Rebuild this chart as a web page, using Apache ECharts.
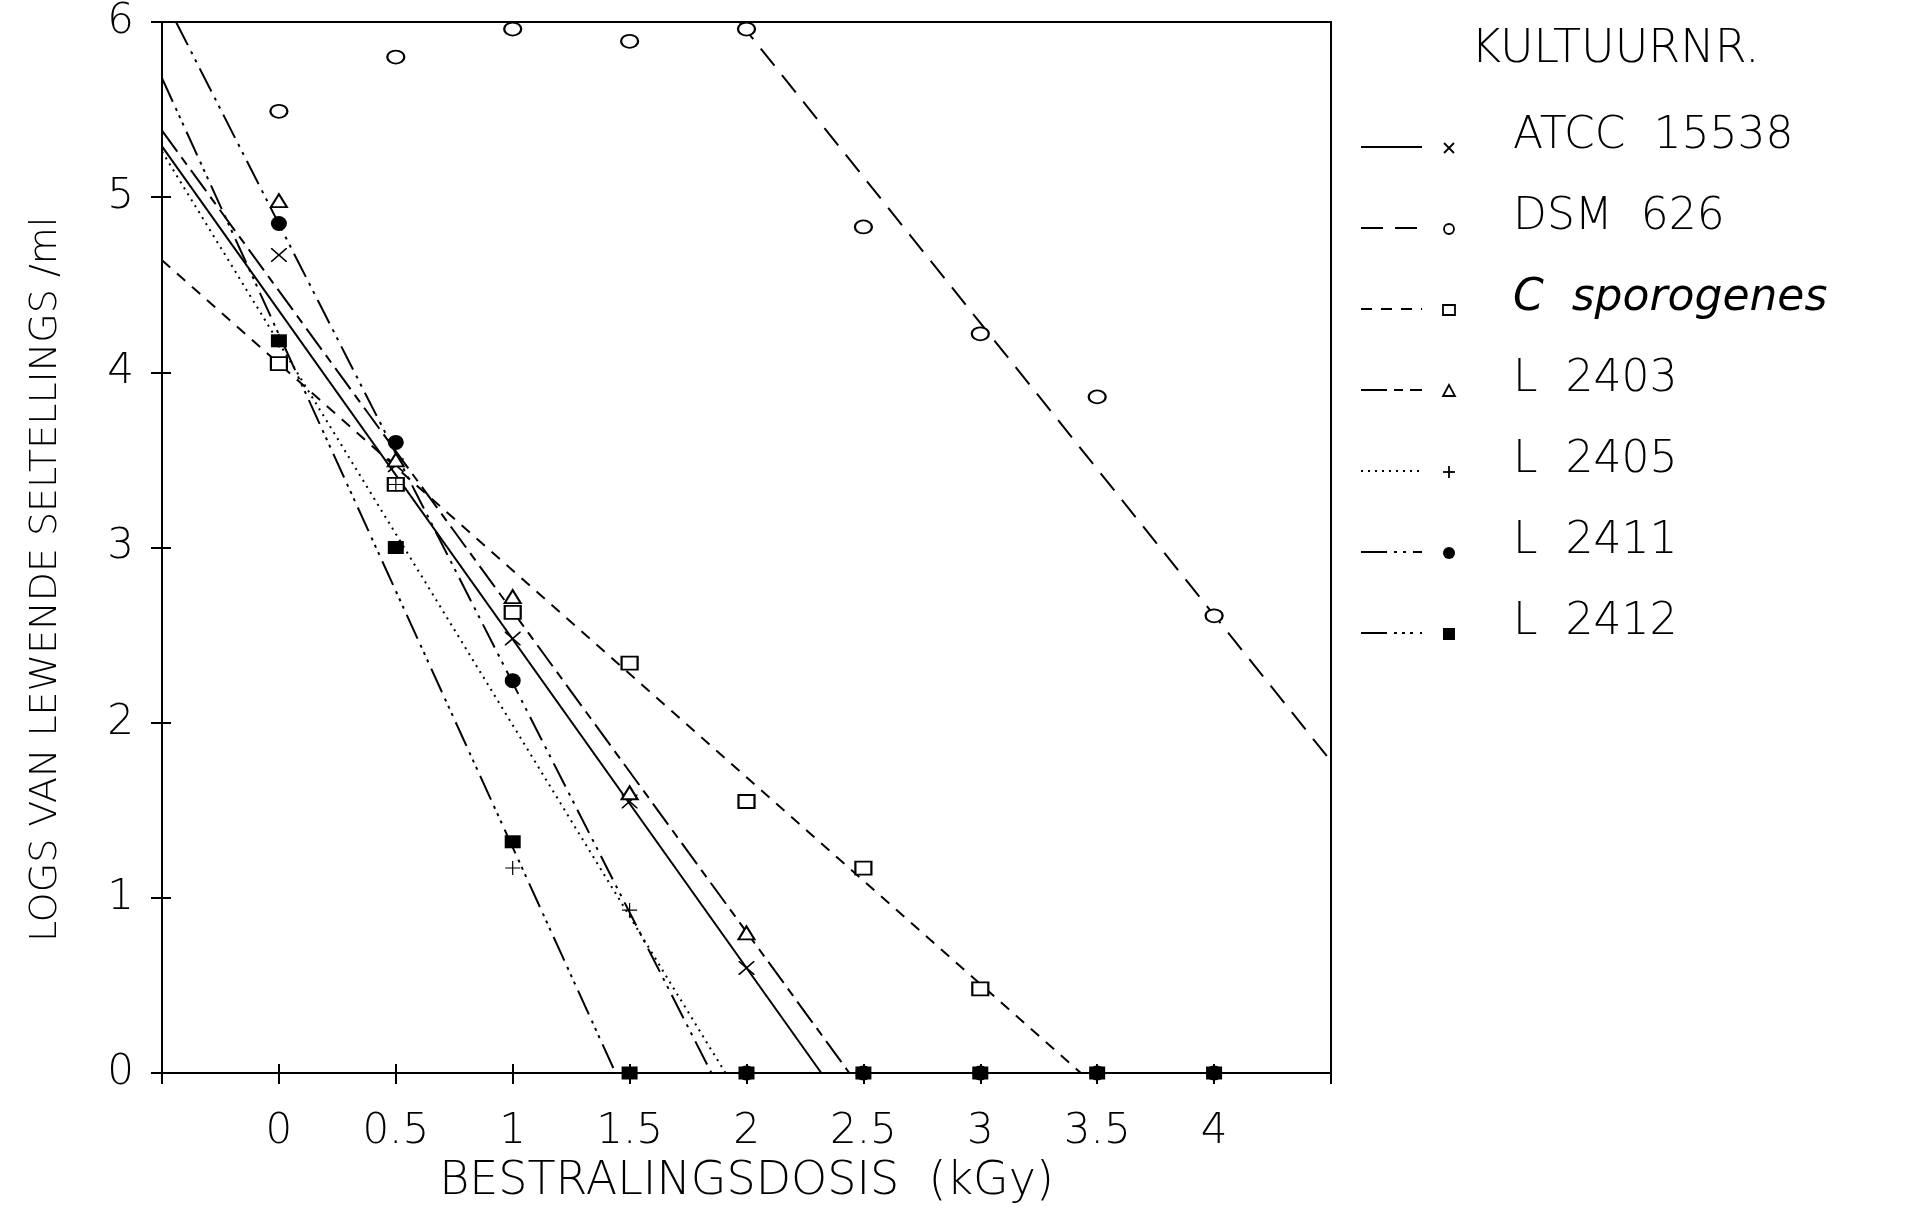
<!DOCTYPE html>
<html><head><meta charset="utf-8">
<script src="https://cdn.jsdelivr.net/npm/echarts/dist/echarts.min.js"></script>
<style>html,body{margin:0;padding:0;background:#fff}#c{width:1906px;height:1210px}</style>
</head><body><div id="c"></div>
<script>
// ---- data ----
const doses = [0, 0.5, 1, 1.5, 2, 2.5, 3, 3.5, 4];
const xTickLabels = ['0', '0.5', '1', '1.5', '2', '2.5', '3', '3.5', '4'];
const seriesNames = ['ATCC 15538', 'DSM 626', 'C sporogenes', 'L 2403', 'L 2405', 'L 2411', 'L 2412'];
const xTitle = 'BESTRALINGSDOSIS  (kGy)';
const yTitle = 'LOGS VAN LEWENDE SELTELLINGS /ml';

// measured points (log counts), aligned with doses; null = no point
const atcc15538  = [4.67, 3.47, 2.48, 1.55, 0.60, null, null, null, null];
const dsm626     = [5.49, 5.80, 5.96, 5.89, 5.96, 4.83, 4.22, 3.86, 2.61];
const cSporogenes= [4.05, 3.36, 2.63, 2.34, 1.55, 1.17, 0.48, null, null];
const l2403      = [4.98, 3.50, 2.72, 1.60, 0.80, null, null, null, null];
const l2405      = [4.18, 3.36, 1.17, 0.93, null, null, null, null, null];
const l2411      = [4.85, 3.60, 2.24, null, 0, 0, 0, 0, 0];
const l2412      = [4.18, 3.00, 1.32, 0, 0, 0, 0, 0, 0];

// fitted regression lines: [dose, log count] end points
const fitAtcc  = [[-0.5, 5.29], [2.32, 0]];
const fitDsm   = [[1.97, 6.0], [4.5, 1.78]];
const fitCspor = [[-0.5, 4.64], [3.43, 0]];
const fit2403  = [[-0.5, 5.38], [2.44, 0]];
const fit2405  = [[-0.5, 5.26], [1.91, 0]];
const fit2411  = [[-0.44, 6.0], [1.85, 0]];
const fit2412  = [[-0.5, 5.68], [1.44, 0]];

// ---- styling ----
const FONT = "'DejaVu Sans', 'Liberation Sans', sans-serif";
const X_PATH = 'path://M0,0 L1.5,0 L10,8.5 L18.5,0 L20,0 L20,1.5 L11.5,10 L20,18.5 L20,20 L18.5,20 L10,11.5 L1.5,20 L0,20 L0,18.5 L8.5,10 L0,1.5 Z';
const PLUS_PATH = 'path://M9.2,0 L10.8,0 L10.8,9.2 L20,9.2 L20,10.8 L10.8,10.8 L10.8,20 L9.2,20 L9.2,10.8 L0,10.8 L0,9.2 L9.2,9.2 Z';

const defs = [
  {pts: atcc15538,   fit: fitAtcc,  dash: 'solid',                 sym: X_PATH,          size: [16, 14], bw: 0},
  {pts: dsm626,      fit: fitDsm,   dash: [22, 12],                sym: 'emptyCircle',   size: [17, 13], bw: 2},
  {pts: cSporogenes, fit: fitCspor, dash: [11, 9],                 sym: 'emptyRect',     size: [16, 13], bw: 2},
  {pts: l2403,       fit: fit2403,  dash: [26, 7, 9, 7],           sym: 'emptyTriangle', size: [16, 13], bw: 2},
  {pts: l2405,       fit: fit2405,  dash: [2, 5],                  sym: PLUS_PATH,       size: [15, 14], bw: 0},
  {pts: l2411,       fit: fit2411,  dash: [26, 7, 3, 6, 3, 7],     sym: 'circle',        size: [16, 15], bw: 0},
  {pts: l2412,       fit: fit2412,  dash: [26, 7, 3, 5, 3, 5, 3, 7], sym: 'rect',        size: [16, 13], bw: 0}
];

const series = [];
defs.forEach((d, i) => {
  series.push({
    name: seriesNames[i] + ' fit', type: 'line', data: d.fit, symbol: 'none', silent: true,
    lineStyle: {color: '#000', width: 2, type: d.dash}, z: 2, animation: false
  });
  series.push({
    name: seriesNames[i], type: 'scatter',
    data: doses.map((x, k) => d.pts[k] == null ? null : [x, d.pts[k]]).filter(p => p),
    symbol: d.sym, symbolSize: d.size,
    itemStyle: {color: '#000', borderColor: '#000', borderWidth: d.bw, opacity: 1},
    z: 3, animation: false
  });
});

// ---- legend and y title drawn as graphic elements ----
const graphic = [];
graphic.push({type: 'text', x: 46, y: 942, rotation: Math.PI / 2,
  style: {text: yTitle, fontSize: 38, fontFamily: FONT, fontWeight: 200, fill: '#000', align: 'left', verticalAlign: 'middle'}});
graphic.push({type: 'text', x: 1471, y: 50, style: {text: 'KULTUURNR.', fontSize: 46, fontFamily: FONT, fontWeight: 200, fill: '#000', verticalAlign: 'middle', align: 'left'}});
const legendMarkers = ['x', 'circle', 'square', 'triangle', 'plus', 'dot', 'block'];
seriesNames.forEach((nm, i) => {
  const ty = 137 + i * 81;
  const ly = 147 + i * 81;
  const mx = 1449, my = ly + 1;
  graphic.push({type: 'line', shape: {x1: 1361, y1: ly, x2: 1422, y2: ly},
    style: {stroke: '#000', lineWidth: 2, lineDash: defs[i].dash === 'solid' ? null : defs[i].dash}});
  const m = legendMarkers[i];
  const st = {stroke: '#000', lineWidth: 1.8, fill: '#fff'};
  if (m === 'x') {
    graphic.push({type: 'line', shape: {x1: mx - 5, y1: my - 5, x2: mx + 5, y2: my + 5}, style: st});
    graphic.push({type: 'line', shape: {x1: mx - 5, y1: my + 5, x2: mx + 5, y2: my - 5}, style: st});
  } else if (m === 'circle') {
    graphic.push({type: 'circle', shape: {cx: mx, cy: my, r: 5}, style: st});
  } else if (m === 'square') {
    graphic.push({type: 'rect', shape: {x: mx - 6, y: my - 5, width: 12, height: 10}, style: st});
  } else if (m === 'triangle') {
    graphic.push({type: 'polygon', shape: {points: [[mx, my - 6], [mx + 6, my + 5], [mx - 6, my + 5]]}, style: st});
  } else if (m === 'plus') {
    graphic.push({type: 'line', shape: {x1: mx - 6, y1: my, x2: mx + 6, y2: my}, style: st});
    graphic.push({type: 'line', shape: {x1: mx, y1: my - 6, x2: mx, y2: my + 6}, style: st});
  } else if (m === 'dot') {
    graphic.push({type: 'circle', shape: {cx: mx, cy: my, r: 6}, style: {fill: '#000'}});
  } else {
    graphic.push({type: 'rect', shape: {x: mx - 6, y: my - 6, width: 12, height: 12}, style: {fill: '#000'}});
  }
  const label = nm.replace(' ', '  ');
  const italic = nm === 'C sporogenes';
  graphic.push({type: 'text', x: 1513, y: ty,
    style: {text: label, fontSize: 44, fontFamily: FONT, fontWeight: italic ? 'normal' : 200,
      fontStyle: italic ? 'italic' : 'normal',
      fill: '#000', verticalAlign: 'middle', align: 'left'}});
});

const chart = echarts.init(document.getElementById('c'), null, {renderer: 'canvas'});
chart.setOption({
  backgroundColor: '#fff',
  animation: false,
  grid: {left: 162, right: 575, top: 22, bottom: 130, show: true, borderColor: '#000', borderWidth: 2, backgroundColor: 'transparent'},
  xAxis: [{
    type: 'value', min: -0.5, max: 4.5, interval: 0.5,
    name: xTitle, nameLocation: 'middle', nameGap: 86,
    nameTextStyle: {fontSize: 46, fontFamily: FONT, fontWeight: 200, color: '#000'},
    axisLine: {show: true, onZero: false, lineStyle: {color: '#000', width: 2}},
    axisTick: {show: true, length: 11, lineStyle: {color: '#000', width: 2}},
    axisLabel: {margin: 38, fontSize: 42, fontFamily: FONT, fontWeight: 200, color: '#000',
      formatter: v => { const k = doses.indexOf(Math.round(v * 2) / 2); return k >= 0 ? xTickLabels[k] : ''; }},
    splitLine: {show: false}
  }, {
    type: 'value', min: -0.5, max: 4.5, interval: 0.5, position: 'bottom', offset: 0,
    axisLine: {show: false, onZero: false}, axisLabel: {show: false}, splitLine: {show: false},
    axisTick: {show: true, inside: true, length: 9, lineStyle: {color: '#000', width: 2}}
  }],
  yAxis: [{
    type: 'value', min: 0, max: 6, interval: 1,
    axisLine: {show: true, onZero: false, lineStyle: {color: '#000', width: 2}},
    axisTick: {show: true, length: 11, lineStyle: {color: '#000', width: 2}},
    axisLabel: {margin: 28, fontSize: 42, fontFamily: FONT, fontWeight: 200, color: '#000'},
    splitLine: {show: false}
  }, {
    type: 'value', min: 0, max: 6, interval: 1, position: 'left', offset: 0,
    axisLine: {show: false, onZero: false}, axisLabel: {show: false}, splitLine: {show: false},
    axisTick: {show: true, inside: true, length: 9, lineStyle: {color: '#000', width: 2}}
  }],
  graphic: graphic,
  series: series
});
</script></body></html>
